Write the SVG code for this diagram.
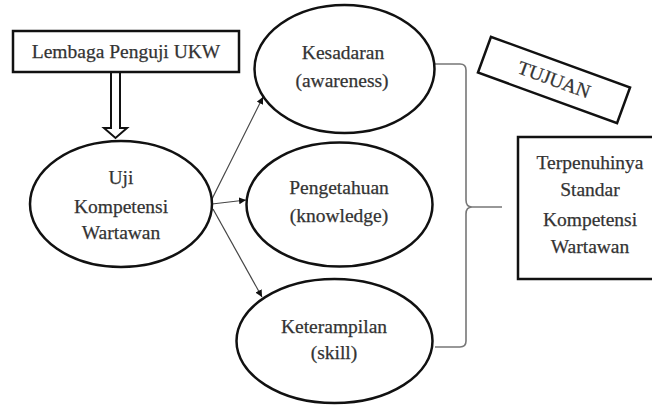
<svg xmlns="http://www.w3.org/2000/svg" width="652" height="405" viewBox="0 0 652 405">
<defs>
<marker id="ah" viewBox="0 0 10 10" refX="10" refY="5" markerWidth="7" markerHeight="7" orient="auto" markerUnits="userSpaceOnUse">
<path d="M0,0 L10,5 L0,10 z" fill="#111"/>
</marker>
<style>
.shape{fill:#fff;stroke:#111;stroke-width:2.5}
.t{font-size:19.5px;fill:#333;stroke:#333;stroke-width:0.25;text-anchor:middle}
.conn{stroke:#444;stroke-width:1.2;fill:none}
.brace{stroke:#777;stroke-width:1.6;fill:none}
</style>
</defs>
<rect width="652" height="405" fill="#fff"/>
<g id="connectors">
<path class="conn" d="M211,201 L263,97" marker-end="url(#ah)"/>
<path class="conn" d="M212,204 L246,200" marker-end="url(#ah)"/>
<path class="conn" d="M213,209 L262,297" marker-end="url(#ah)"/>
<polygon points="111,72 120,72 120,128 127,128 115.5,138 104,128 111,128" fill="#fff" stroke="#111" stroke-width="2"/>
<path class="brace" d="M435,64 L460,64 Q466,64 466,70 L466,200 Q466,207 472,207 Q466,207 466,214 L466,341 Q466,347 460,347 L435,347 M472,207 L502,207"/>
</g>
<g font-family="'Liberation Serif', 'DejaVu Serif', 'Times New Roman', serif">
<g id="lembaga">
<rect class="shape" x="13" y="31" width="226" height="41"/>
<text class="t" x="126" y="58">Lembaga Penguji UKW</text>
</g>
<g id="uji">
<ellipse class="shape" cx="121" cy="204" rx="91" ry="63"/>
<text class="t" x="121" y="184">Uji</text>
<text class="t" x="121" y="213">Kompetensi</text>
<text class="t" x="121" y="239">Wartawan</text>
</g>
<g id="kesadaran">
<ellipse class="shape" cx="344.5" cy="69" rx="90" ry="64"/>
<text class="t" x="343" y="59">Kesadaran</text>
<text class="t" x="342" y="87">(awareness)</text>
</g>
<g id="pengetahuan">
<ellipse class="shape" cx="339.5" cy="204.5" rx="93" ry="62"/>
<text class="t" x="339" y="194">Pengetahuan</text>
<text class="t" x="339" y="222">(knowledge)</text>
</g>
<g id="keterampilan">
<ellipse class="shape" cx="334.5" cy="341" rx="98" ry="62"/>
<text class="t" x="334" y="333">Keterampilan</text>
<text class="t" x="334" y="359">(skill)</text>
</g>
<g id="tujuan" transform="translate(554,80) rotate(20)">
<rect class="shape" x="-74" y="-19" width="148" height="38"/>
<text class="t" x="0" y="6" font-size="16.5">TUJUAN</text>
</g>
<g id="terpenuhinya">
<rect class="shape" x="518" y="137" width="150" height="142"/>
<text class="t" x="590" y="169">Terpenuhinya</text>
<text class="t" x="590" y="196">Standar</text>
<text class="t" x="590" y="226">Kompetensi</text>
<text class="t" x="590" y="253">Wartawan</text>
</g>
</g>
</svg>
